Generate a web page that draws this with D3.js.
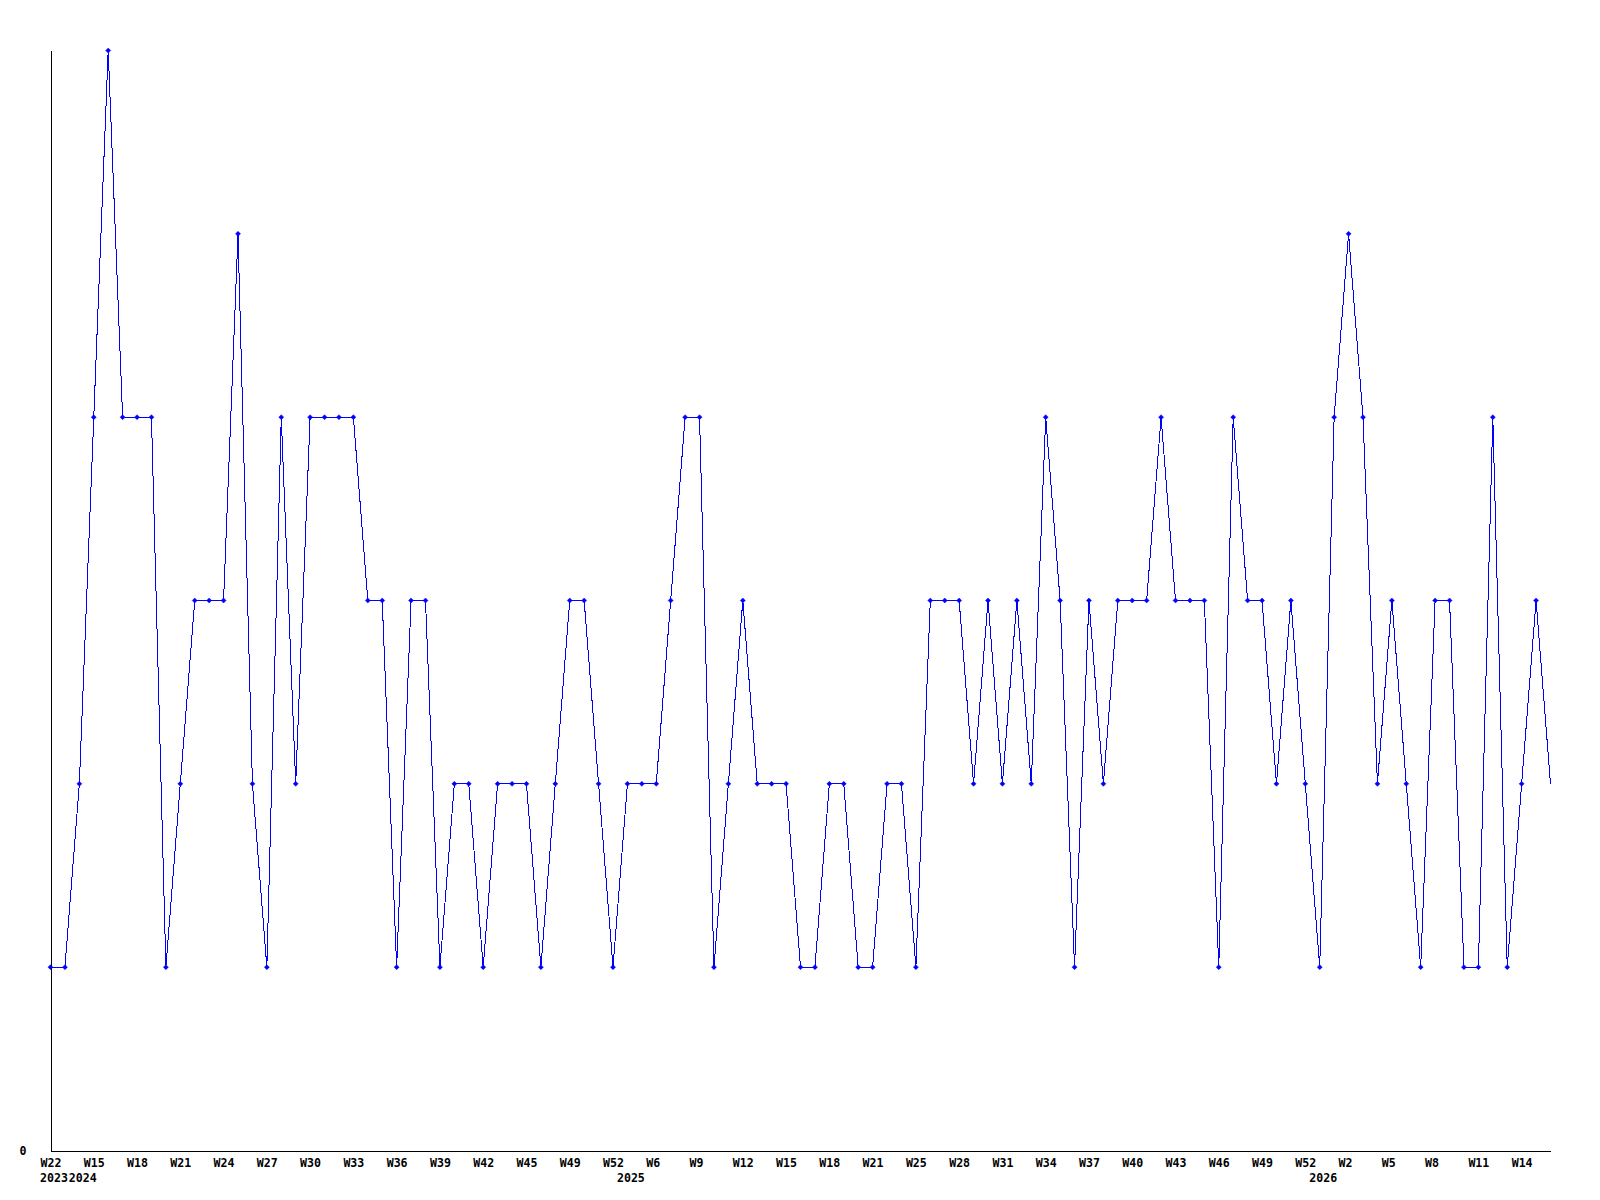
<!DOCTYPE html>
<html><head><meta charset="utf-8">
<script src="https://cdn.jsdelivr.net/npm/d3@7"></script>
<style>html,body{margin:0;padding:0;background:#fff;} svg{display:block}</style>
</head><body>
<script>
// Weekly counts, one value per point (oldest first)
const values = [1,1,2,4,6,4,4,4,1,2,3,3,3,5,2,1,4,2,4,4,4,4,3,3,1,3,3,1,2,2,
                1,2,2,2,1,2,3,3,2,1,2,2,2,3,4,4,1,2,3,2,2,2,1,1,2,2,1,1,2,2,
                1,3,3,3,2,3,2,3,2,4,3,1,3,2,3,3,3,4,3,3,3,1,4,3,3,2,3,2,1,4,
                5,4,2,3,2,1,3,3,1,1,4,1,2,3,2];
// Week tick labels, shown on every 3rd point
const tickLabels = ["W22","W15","W18","W21","W24","W27","W30","W33","W36","W39","W42","W45",
                    "W49","W52","W6","W9","W12","W15","W18","W21","W25","W28","W31","W34",
                    "W37","W40","W43","W46","W49","W52","W2","W5","W8","W11","W14"];
const tickEvery = 3;
// Year labels and the point index where each year begins
const yearLabels = ["2023","2024","2025","2026"];
const yearStarts = [0, 2, 40, 88];
const yTickValues = [0];

const W = 1600, H = 1200;
const m = {left: 50.5, right: 1550.5, top: 50.5, bottom: 1150.5};
const font = "'DejaVu Sans Mono', monospace";

const svg = d3.select("body").append("svg").attr("width", W).attr("height", H)
  .style("background", "#fff");

const x = d3.scaleLinear().domain([0, values.length - 1]).range([m.left, m.right]);
const y = d3.scaleLinear().domain([0, d3.max(values)]).range([m.bottom, m.top]);

// X axis
const tickIdx = tickLabels.map((_, k) => k * tickEvery);
const xAxis = svg.append("g").attr("transform", `translate(0,${m.bottom})`)
  .call(d3.axisBottom(x).tickValues(tickIdx).tickSize(0).tickSizeOuter(0)
        .tickFormat(i => tickLabels[i / tickEvery]));
xAxis.select(".domain").attr("stroke", "#000").attr("shape-rendering", "crispEdges");
xAxis.selectAll(".tick text")
  .attr("text-anchor", "start").attr("x", -10.5).attr("y", 16).attr("dy", null)
  .attr("fill", "#000").style("font-family", font).style("font-weight", "bold").style("font-size", "11.6px");

// Year labels
svg.append("g").selectAll("text").data(yearLabels).join("text")
  .attr("x", (d, k) => x(yearStarts[k]) - 10.5)
  .attr("y", m.bottom + 31.5)
  .attr("fill", "#000").style("font-family", font).style("font-weight", "bold").style("font-size", "11.6px")
  .text(d => d);

// Y axis
const yAxis = svg.append("g").attr("transform", `translate(${m.left},0)`)
  .call(d3.axisLeft(y).tickValues(yTickValues).tickSize(0).tickSizeOuter(0).tickFormat(d3.format("d")));
yAxis.select(".domain").attr("stroke", "#000").attr("shape-rendering", "crispEdges");
yAxis.selectAll(".tick text")
  .attr("text-anchor", "middle").attr("x", -27.5).attr("dy", null).attr("y", 4)
  .attr("fill", "#000").style("font-family", font).style("font-weight", "bold").style("font-size", "11.6px");

// Line
const line = d3.line().x((d, i) => x(i)).y(d => y(d));
svg.append("path").datum(values)
  .attr("d", line).attr("fill", "none").attr("stroke", "#0000ff").attr("stroke-width", 1)
  .attr("shape-rendering", "crispEdges");

// Markers (the final, in-progress point has none)
const markerData = values.slice(0, -1);
svg.append("g").selectAll("path").data(markerData).join("path")
  .attr("d", (d, i) => {
    const cx = x(i), cy = y(d), r = 2.5;
    return `M${cx - r},${cy}L${cx},${cy - r}L${cx + r},${cy}L${cx},${cy + r}Z`;
  })
  .attr("fill", "#0000ff").attr("stroke", "#0000ff").attr("stroke-width", 0.5);
</script>
</body></html>
